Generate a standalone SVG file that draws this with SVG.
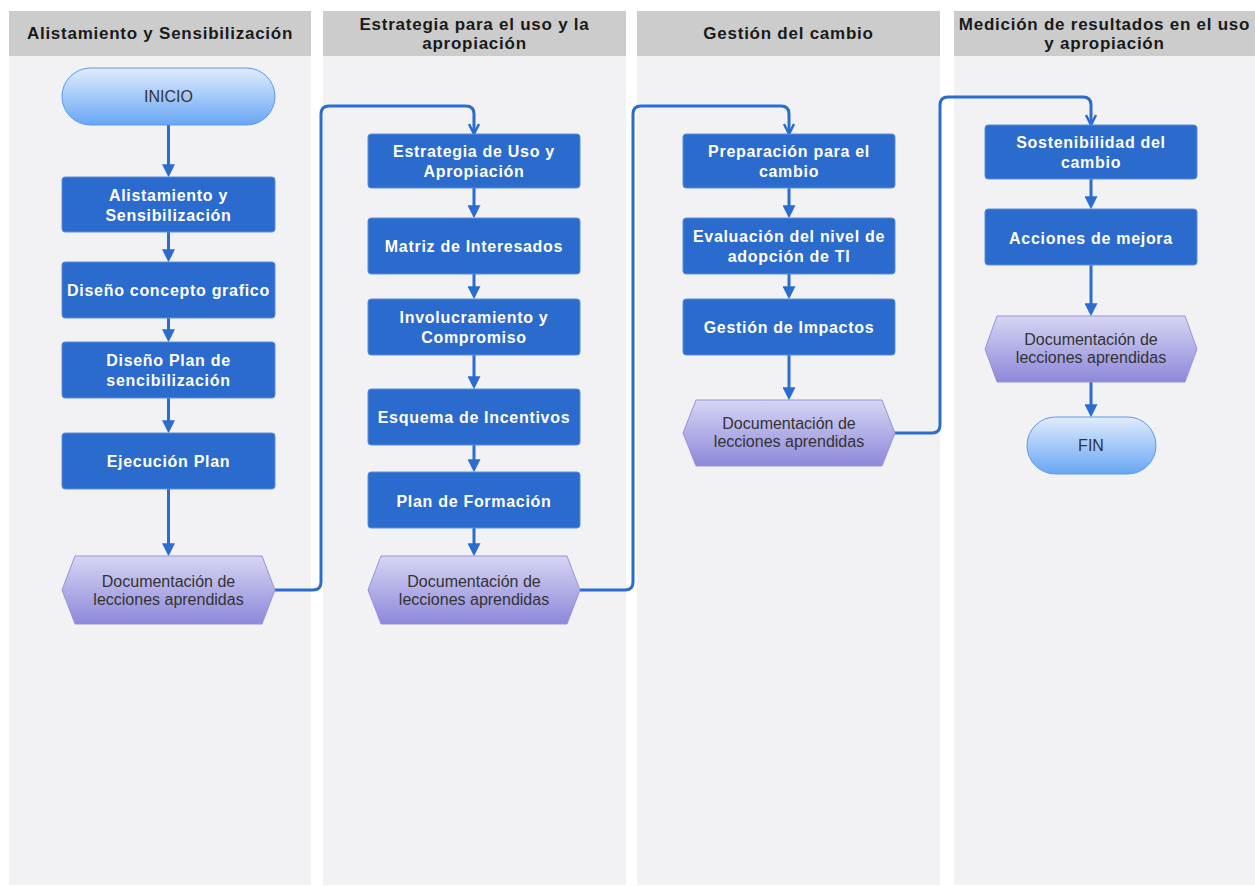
<svg xmlns="http://www.w3.org/2000/svg" width="1255" height="886" viewBox="0 0 1255 886">
<defs>
<linearGradient id="gTerm" x1="0" y1="0" x2="0" y2="1">
<stop offset="0" stop-color="#e0ecfd"/><stop offset="1" stop-color="#68a6f4"/>
</linearGradient>
<linearGradient id="gHex" x1="0" y1="0" x2="0" y2="1">
<stop offset="0" stop-color="#d6d5f4"/><stop offset="1" stop-color="#8d88da"/>
</linearGradient>
<marker id="ah" viewBox="0 0 10 10" refX="6" refY="5" markerWidth="13" markerHeight="13" markerUnits="userSpaceOnUse" orient="auto">
<path d="M0,0 L10,5 L0,10 z" fill="#2b6ccf"/>
</marker>
<marker id="av" viewBox="0 0 12 12" refX="11" refY="6" markerWidth="12" markerHeight="12" markerUnits="userSpaceOnUse" orient="auto">
<path d="M1,1 L11,6 L1,11" fill="none" stroke="#2b6ccf" stroke-width="2.5"/>
</marker>
</defs>
<style>
.lane{fill:#f2f2f4}
.hdr{fill:#cccccc}
.ht{font-family:"Liberation Sans",Arial,sans-serif;font-size:17px;font-weight:bold;fill:#1a1a1a;text-anchor:middle;letter-spacing:0.75px}
.box{fill:#2b6bcd;stroke:#5a90dc;stroke-width:1}
.bt{font-family:"Liberation Sans",Arial,sans-serif;font-size:16px;font-weight:bold;fill:#ffffff;text-anchor:middle;letter-spacing:0.7px}
.term{fill:url(#gTerm);stroke:#5a9ae8;stroke-width:1}
.tt{font-family:"Liberation Sans",Arial,sans-serif;font-size:16px;fill:#333333;text-anchor:middle}
.hex{fill:url(#gHex);stroke:#9792dc;stroke-width:1}
.xt{font-family:"Liberation Sans",Arial,sans-serif;font-size:16px;fill:#333333;text-anchor:middle}
.c{fill:none;stroke:#2b6ccf;stroke-width:3}
.ca{marker-end:url(#ah)}
.cv{marker-end:url(#av)}
</style>
<rect width="1255" height="886" fill="#ffffff"/>
<g id="lanes">
<rect class="lane" x="9" y="11" width="302" height="874"/>
<rect class="hdr" x="9" y="11" width="302" height="45"/>
<text class="ht" x="160" y="39">Alistamiento y Sensibilización</text>
<rect class="lane" x="323" y="11" width="303" height="874"/>
<rect class="hdr" x="323" y="11" width="303" height="45"/>
<text class="ht" x="474.5" y="30">Estrategia para el uso y la</text>
<text class="ht" x="474.5" y="49">apropiación</text>
<rect class="lane" x="637" y="11" width="303" height="874"/>
<rect class="hdr" x="637" y="11" width="303" height="45"/>
<text class="ht" x="788.5" y="39">Gestión del cambio</text>
<rect class="lane" x="954" y="11" width="301" height="874"/>
<rect class="hdr" x="954" y="11" width="301" height="45"/>
<text class="ht" x="1104.5" y="30">Medición de resultados en el uso</text>
<text class="ht" x="1104.5" y="49">y apropiación</text>
</g>
<g id="connectors">
<path class="c ca" d="M168.5,125 V172"/>
<path class="c ca" d="M168.5,232 V257"/>
<path class="c ca" d="M168.5,318 V337"/>
<path class="c ca" d="M168.5,398 V428"/>
<path class="c ca" d="M168.5,489 V551"/>
<path class="c cv" d="M275,590 H313 Q321,590 321,582 V114 Q321,106 329,106 H466 Q474,106 474,114 V134"/>
<path class="c ca" d="M474,188 V213"/>
<path class="c ca" d="M474,274 V294"/>
<path class="c ca" d="M474,355 V384"/>
<path class="c ca" d="M474,445 V467"/>
<path class="c ca" d="M474,528 V551"/>
<path class="c cv" d="M580,590 H625 Q633,590 633,582 V114 Q633,106 641,106 H781 Q789,106 789,114 V134"/>
<path class="c ca" d="M789,188 V213"/>
<path class="c ca" d="M789,274 V294"/>
<path class="c ca" d="M789,355 V395"/>
<path class="c cv" d="M895,433 H932 Q940,433 940,425 V105 Q940,97 948,97 H1083 Q1091,97 1091,105 V125"/>
<path class="c ca" d="M1091,179 V204"/>
<path class="c ca" d="M1091,265 V311"/>
<path class="c ca" d="M1091,382 V412"/>
</g>
<g id="inicio"><rect class="term" x="62" y="68" width="213" height="57" rx="28.5"/><text class="tt" x="168.5" y="102">INICIO</text></g>
<g id="n1"><rect class="box" x="62" y="177" width="213" height="55" rx="3"/><text class="bt" x="168.5" y="201">Alistamiento y</text><text class="bt" x="168.5" y="221">Sensibilización</text></g>
<g id="n2"><rect class="box" x="62" y="262" width="213" height="56" rx="3"/><text class="bt" x="168.5" y="296">Diseño concepto grafico</text></g>
<g id="n3"><rect class="box" x="62" y="342" width="213" height="56" rx="3"/><text class="bt" x="168.5" y="366">Diseño Plan de</text><text class="bt" x="168.5" y="386">sencibilización</text></g>
<g id="n4"><rect class="box" x="62" y="433" width="213" height="56" rx="3"/><text class="bt" x="168.5" y="467">Ejecución Plan</text></g>
<g id="doc1"><polygon class="hex" points="75,556 262,556 275,590 262,624 75,624 62,590"/><text class="xt" x="168.5" y="587">Documentación de</text><text class="xt" x="168.5" y="605">lecciones aprendidas</text></g>
<g id="m1"><rect class="box" x="368" y="134" width="212" height="54" rx="3"/><text class="bt" x="474" y="157">Estrategia de Uso y</text><text class="bt" x="474" y="177">Apropiación</text></g>
<g id="m2"><rect class="box" x="368" y="218" width="212" height="56" rx="3"/><text class="bt" x="474" y="252">Matriz de Interesados</text></g>
<g id="m3"><rect class="box" x="368" y="299" width="212" height="56" rx="3"/><text class="bt" x="474" y="323">Involucramiento y</text><text class="bt" x="474" y="343">Compromiso</text></g>
<g id="m4"><rect class="box" x="368" y="389" width="212" height="56" rx="3"/><text class="bt" x="474" y="423">Esquema de Incentivos</text></g>
<g id="m5"><rect class="box" x="368" y="472" width="212" height="56" rx="3"/><text class="bt" x="474" y="507">Plan de Formación</text></g>
<g id="doc2"><polygon class="hex" points="381,556 567,556 580,590 567,624 381,624 368,590"/><text class="xt" x="474" y="587">Documentación de</text><text class="xt" x="474" y="605">lecciones aprendidas</text></g>
<g id="g1"><rect class="box" x="683" y="134" width="212" height="54" rx="3"/><text class="bt" x="789" y="157">Preparación para el</text><text class="bt" x="789" y="177">cambio</text></g>
<g id="g2"><rect class="box" x="683" y="218" width="212" height="56" rx="3"/><text class="bt" x="789" y="242">Evaluación del nivel de</text><text class="bt" x="789" y="262">adopción de TI</text></g>
<g id="g3"><rect class="box" x="683" y="299" width="212" height="56" rx="3"/><text class="bt" x="789" y="333">Gestión de Impactos</text></g>
<g id="doc3"><polygon class="hex" points="696,400 882,400 895,433 882,466 696,466 683,433"/><text class="xt" x="789" y="429">Documentación de</text><text class="xt" x="789" y="447">lecciones aprendidas</text></g>
<g id="s1"><rect class="box" x="985" y="125" width="212" height="54" rx="3"/><text class="bt" x="1091" y="148">Sostenibilidad del</text><text class="bt" x="1091" y="168">cambio</text></g>
<g id="s2"><rect class="box" x="985" y="209" width="212" height="56" rx="3"/><text class="bt" x="1091" y="244">Acciones de mejora</text></g>
<g id="doc4"><polygon class="hex" points="997,316 1185,316 1197,349 1185,382 997,382 985,349"/><text class="xt" x="1091" y="345">Documentación de</text><text class="xt" x="1091" y="363">lecciones aprendidas</text></g>
<g id="fin"><rect class="term" x="1027" y="417" width="129" height="57" rx="28.5"/><text class="tt" x="1091" y="451">FIN</text></g>
</svg>
